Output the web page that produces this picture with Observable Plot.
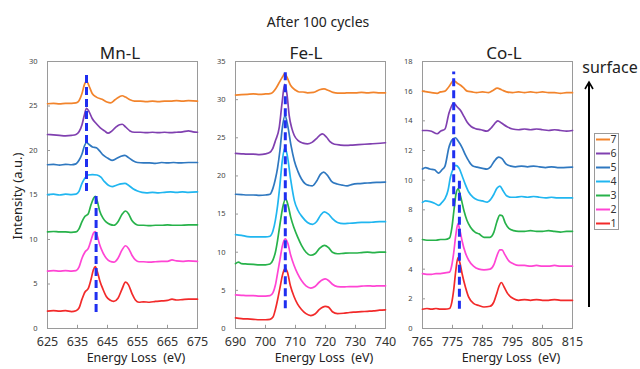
<!DOCTYPE html>
<html>
<head>
<meta charset="utf-8">
<script src="https://cdn.jsdelivr.net/npm/d3@7"></script>
<script src="https://cdn.jsdelivr.net/npm/@observablehq/plot@0.6"></script>
<style>
  html, body { margin: 0; padding: 0; background: #fff; }
  #root { position: relative; width: 640px; height: 369px; background: #fff; font-family: "Noto Sans", "Open Sans", sans-serif; color: #222; overflow: hidden; }
  .t { position: absolute; white-space: pre; transform: translate(-50%, -50%); line-height: 1; }
  #root svg { position: absolute; top: 0; }
</style>
</head>
<body>
<div id="root"></div>
<script>
// ---------- data ----------
const seriesNames = ["1", "2", "3", "4", "5", "6", "7"];
const seriesColors = ["#f22a2a", "#ff45d4", "#27b24a", "#20b6f0", "#2f78c0", "#8040b0", "#f2842c"];
const dashColor = "#1f2ff0";

const mnXTicks = [625, 635, 645, 655, 665, 675];
const mnYTicks = [0, 5, 10, 15, 20, 25, 30];
const feXTicks = [690, 700, 710, 720, 730, 740];
const feYTicks = [0, 5, 10, 15, 20, 25, 30, 35];
const coXTicks = [765, 775, 785, 795, 805, 815];
const coYTicks = [0, 2, 4, 6, 8, 10, 12, 14, 16, 18];

// Mn-L spectra, series 1..7 : [energy loss (eV), intensity]
const mnSpectra = [
  [[625,1.95],[627,2.0],[629,1.95],[631,2.0],[633,1.9],[634.5,2.0],[635.5,2.3],[636.5,3.3],[637.5,4.1],[638.6,4.5],[639.5,5.5],[640.3,6.6],[640.9,6.95],[641.6,6.4],[642.4,5.4],[643.5,4.4],[644.6,3.6],[645.8,3.2],[647.1,3.05],[648.5,3.4],[649.8,4.4],[651.0,5.2],[652.0,4.9],[653.2,3.9],[654.3,3.2],[655.5,2.95],[657,3.0],[659,2.95],[661,3.05],[663,3.1],[665,3.15],[666.5,3.3],[668,3.2],[670,3.25],[672,3.3],[675,3.3]],
  [[625,6.45],[627,6.5],[629,6.45],[631,6.5],[633,6.45],[634.5,6.5],[635.5,6.9],[636.5,7.9],[637.5,8.6],[638.6,9.0],[639.5,9.9],[640.3,10.7],[640.9,10.9],[641.6,10.4],[642.4,9.4],[643.5,8.5],[644.6,7.9],[645.8,7.55],[647.1,7.45],[648.5,7.9],[649.8,8.8],[651.0,9.3],[652.0,9.0],[653.2,8.2],[654.3,7.7],[655.5,7.5],[657,7.5],[659,7.45],[661,7.5],[663,7.55],[665,7.55],[666.5,7.7],[668,7.6],[670,7.55],[672,7.6],[675,7.55]],
  [[625,10.85],[627,10.9],[629,10.85],[631,10.85],[633,10.8],[634.5,10.85],[635.5,11.2],[636.5,12.0],[637.5,12.6],[638.6,12.9],[639.5,13.9],[640.3,14.6],[640.9,14.85],[641.6,14.3],[642.4,13.2],[643.5,12.4],[644.6,11.95],[645.8,11.7],[647.1,11.6],[648.5,12.0],[649.8,12.8],[651.0,13.2],[652.0,12.9],[653.2,12.1],[654.3,11.75],[655.5,11.6],[657,11.6],[659,11.55],[661,11.6],[663,11.6],[665,11.65],[667,11.6],[669,11.6],[672,11.65],[675,11.65]],
  [[625,15.05],[627,15.1],[629,15.0],[631,15.1],[633,15.05],[634.5,15.1],[635.5,15.4],[636.5,16.3],[637.5,16.9],[638.5,17.25],[640,17.3],[641.5,17.25],[642.8,17.0],[644,16.5],[645.3,16.1],[646.6,15.95],[648,16.1],[649.5,16.25],[650.8,16.3],[652,16.1],[653.5,15.7],[655,15.45],[656.5,15.3],[658,15.25],[660,15.3],[662,15.25],[664,15.3],[666,15.35],[668,15.3],[670,15.35],[672,15.3],[675,15.35]],
  [[625,18.4],[627,18.45],[629,18.35],[631,18.45],[633,18.4],[634.5,18.5],[635.5,18.9],[636.5,19.6],[637.3,20.5],[638,20.9],[638.8,20.7],[640,20.4],[641.3,20.3],[642.5,19.9],[643.5,19.5],[645,19.15],[646.5,18.9],[648,19.1],[649.5,19.35],[650.8,19.45],[652,19.2],[653.5,18.85],[655,18.65],[657,18.6],[659,18.6],[661,18.55],[663,18.65],[665,18.6],[667,18.65],[669,18.6],[672,18.65],[675,18.65]],
  [[625,21.8],[627,21.75],[629,21.7],[631,21.65],[633,21.7],[634.5,21.8],[635.5,22.1],[636.5,22.9],[637.3,24.0],[638,24.75],[638.8,24.4],[639.9,23.6],[641.3,23.0],[642.6,22.55],[644,22.2],[645.2,21.95],[646.3,22.15],[647.7,22.6],[649,22.9],[649.9,22.95],[651,22.65],[652.5,22.2],[654,22.05],[656,22.05],[658,22.0],[660,22.05],[662,22.0],[664,22.05],[666,22.0],[668,22.05],[670,22.1],[672,22.2],[673.5,22.1],[675,22.05]],
  [[625,25.25],[627,25.3],[629,25.25],[631,25.3],[633,25.3],[634.5,25.35],[635.5,25.6],[636.5,26.4],[637.3,27.4],[638,27.8],[638.8,27.3],[639.9,26.4],[641.3,26.0],[643.2,25.75],[644.8,25.45],[646,25.35],[647.5,25.7],[649,26.05],[649.9,26.15],[651,26.0],[652.5,25.7],[654,25.55],[656,25.55],[658,25.5],[660,25.55],[662,25.5],[664,25.55],[666,25.55],[668,25.6],[670,25.55],[672,25.6],[675,25.55]]
];

// Fe-L spectra, series 1..7
const feSpectra = [
  [[690,1.4],[692,1.3],[694,1.25],[696,1.2],[698,1.15],[700,1.15],[701.5,1.2],[702.5,1.5],[703.3,2.5],[704,3.7],[704.8,5.3],[705.6,6.9],[706.5,7.9],[707.3,7.4],[708.3,5.6],[709.5,4.2],[710.7,3.2],[712,2.5],[713.5,1.95],[715.1,1.7],[716.5,1.9],[718,2.5],[719.9,2.9],[721,2.8],[722.3,2.2],[724,1.95],[726,2.0],[728,2.1],[730,2.15],[732,2.2],[734,2.25],[736,2.3],[738,2.4],[740,2.45]],
  [[690,4.4],[692,4.35],[694,4.3],[696,4.3],[698,4.25],[700,4.25],[701.5,4.3],[702.5,4.7],[703.3,5.7],[704,7.2],[704.8,9.0],[705.6,10.8],[706.6,11.75],[707.4,11.2],[708.4,9.6],[709.5,8.3],[710.7,7.2],[712,6.3],[713.5,5.6],[715.1,5.3],[716.5,5.5],[718,6.1],[719.9,6.5],[721,6.3],[722.3,5.8],[724,5.5],[726,5.45],[728,5.5],[730,5.5],[732,5.55],[734,5.6],[736,5.55],[738,5.6],[740,5.6]],
  [[690,8.5],[691,8.7],[692,8.5],[694,8.45],[696,8.4],[698,8.35],[700,8.35],[701.5,8.45],[702.5,9.0],[703.3,10.0],[704,11.5],[704.8,13.6],[705.7,15.8],[706.7,17.0],[707.5,16.2],[708.4,14.6],[709.5,13.2],[710.7,12.0],[712,10.9],[713.5,10.0],[715.1,9.6],[716.5,9.8],[718,10.5],[719.6,10.9],[721,10.6],[722.3,10.0],[724,9.8],[726,9.85],[728,9.9],[730,9.9],[732,9.95],[734,10.0],[736,9.95],[738,10.0],[740,10.0]],
  [[690,12.3],[692,12.2],[694,12.05],[696,12.0],[698,12.0],[700,12.0],[701.5,12.1],[702.5,12.8],[703.3,14.2],[704,16.0],[704.8,18.8],[705.6,22.0],[706.5,23.7],[707.3,22.6],[708.4,19.5],[709.6,16.8],[710.8,15.5],[712.3,14.6],[714,13.9],[715.7,13.65],[717,14.0],[718.3,14.8],[719.6,15.3],[721,15.0],[722.3,14.4],[724,13.9],[726,13.75],[728,13.8],[730,13.85],[732,13.9],[734,13.9],[736,13.95],[738,14.0],[740,14.0]],
  [[690,17.6],[692,17.55],[694,17.5],[696,17.5],[698,17.45],[700,17.5],[701.5,17.6],[702.5,18.4],[703.3,19.6],[704,21.0],[704.8,23.3],[705.6,26.3],[706.5,27.9],[707.4,26.6],[708.5,24.0],[709.6,22.0],[710.8,20.6],[712,19.6],[713.3,18.95],[714.6,18.75],[715.6,18.7],[717,19.3],[718.3,20.2],[719.4,20.5],[720.6,20.1],[722,19.3],[723.9,18.95],[725.5,18.8],[727.2,18.7],[729,18.9],[731,19.0],[733,19.05],[735,19.1],[737,19.15],[740,19.2]],
  [[690,22.95],[692,22.9],[694,22.85],[696,22.85],[698,22.8],[700,22.9],[701.5,23.1],[702.3,23.5],[703.3,24.6],[704.6,26.4],[705.5,29.5],[706.4,32.0],[707.2,30.6],[707.9,27.9],[708.8,26.2],[709.6,25.3],[711,24.6],[712.5,24.3],[714,24.2],[715.5,24.4],[717,24.9],[718.3,25.4],[719,25.5],[720.3,25.1],[721.5,24.5],[723,24.15],[725,24.05],[727,24.0],[729,24.05],[731,24.1],[733,24.15],[735,24.2],[737,24.25],[740,24.35]],
  [[690,30.6],[692,30.65],[694,30.7],[696,30.75],[698,30.7],[700,30.75],[701.5,30.8],[702.5,31.0],[703.5,31.5],[704.8,32.4],[705.7,33.0],[706.4,33.4],[707.2,32.9],[708.4,31.85],[709.8,31.3],[711.2,31.0],[712.5,31.0],[714,30.9],[716,30.95],[718,31.3],[719.5,31.4],[721,31.2],[722.5,30.95],[724,30.85],[726,30.85],[728,30.9],[730,30.9],[732,30.95],[734,30.9],[736,30.95],[738,30.9],[740,30.9]]
];

// Co-L spectra, series 1..7
const coSpectra = [
  [[765,1.3],[766.5,1.35],[768,1.3],[769.5,1.35],[771,1.3],[772.5,1.3],[774,1.35],[774.8,1.8],[775.4,2.6],[776.1,3.9],[776.8,4.77],[777.5,4.4],[778.2,3.69],[779.3,2.8],[780.4,2.11],[782,1.7],[783.8,1.55],[785.5,1.45],[787.5,1.5],[788.8,1.8],[789.8,2.4],[790.6,2.9],[791.3,3.1],[792.2,2.8],[793.4,2.35],[795.4,2.0],[797,1.9],[799,1.95],[801,1.9],[803,1.95],[805,1.9],[807,1.9],[809,1.95],[811,1.9],[813,1.9],[815,1.9]],
  [[765,3.7],[766.5,3.65],[768,3.65],[769.5,3.7],[771,3.7],[772.5,3.75],[774,3.8],[774.8,4.3],[775.4,5.1],[776.1,6.3],[776.8,7.05],[777.5,6.6],[778.2,5.9],[779.3,5.1],[780.4,4.6],[782,4.2],[783.8,4.0],[785.5,3.95],[787.5,4.0],[788.8,4.3],[789.8,4.9],[790.8,5.3],[791.5,5.3],[792.4,5.0],[793.6,4.6],[795.4,4.35],[797,4.25],[799,4.25],[801,4.2],[803,4.25],[805,4.2],[807,4.2],[809,4.25],[811,4.2],[813,4.2],[815,4.2]],
  [[765,6.0],[766.5,5.95],[768,5.95],[769.5,5.95],[771,6.0],[772.5,6.0],[774,6.1],[774.8,6.8],[775.5,8.0],[776.2,9.1],[776.9,9.42],[777.7,8.9],[778.8,7.96],[779.8,7.3],[781,6.83],[782.5,6.5],[783.8,6.38],[785.5,6.15],[787.5,6.15],[788.8,6.5],[789.8,7.2],[790.8,7.65],[791.6,7.6],[792.6,7.1],[793.8,6.75],[795.4,6.6],[797,6.55],[799,6.55],[801,6.6],[803,6.55],[805,6.55],[807,6.6],[809,6.55],[811,6.5],[813,6.55],[815,6.55]],
  [[765,8.5],[766,8.6],[767.5,8.55],[769,8.45],[770.4,8.3],[771.5,8.5],[772.5,8.75],[773.5,9.3],[774.3,10.2],[775.3,10.8],[776.1,11.0],[777.2,10.8],[778.2,10.3],[779.3,9.7],[780.4,9.2],[781.8,8.85],[783.2,8.68],[785,8.6],[786.6,8.52],[787.7,8.7],[788.8,9.05],[789.8,9.45],[790.8,9.6],[791.8,9.3],[793,8.95],[794.5,8.85],[796,8.85],[798,8.9],[800,8.85],[802,8.9],[804,8.85],[806,8.8],[808,8.85],[810,8.8],[812,8.8],[815,8.8]],
  [[765,10.75],[766,10.85],[767.5,10.75],[769,10.7],[770.4,10.47],[771.5,10.7],[772.5,10.95],[773.8,12.2],[774.8,12.7],[776,12.86],[777,12.6],[778.2,12.2],[779.3,11.7],[780.4,11.3],[781.8,10.95],[783.2,10.88],[785,10.8],[786.5,10.75],[787.7,10.9],[789,11.3],[790.4,11.55],[791.5,11.45],[792.8,11.1],[794.5,10.95],[796,10.9],[798,10.95],[800,10.9],[802,10.95],[804,10.9],[806,10.85],[808,10.9],[810,10.85],[812,10.85],[815,10.88]],
  [[765,13.35],[766.5,13.35],[768,13.3],[769.9,13.13],[771,13.3],[772.5,13.45],[773.8,14.5],[775.4,15.2],[776.5,14.95],[777.7,14.7],[778.8,14.3],[779.9,13.9],[781.3,13.6],[782.7,13.47],[784.5,13.4],[786.5,13.3],[787.8,13.5],[789,13.8],[790.1,14.0],[791.3,13.85],[793.2,13.6],[795,13.45],[797,13.4],[799,13.45],[801,13.4],[803,13.45],[805,13.4],[807,13.35],[809,13.4],[811,13.35],[813,13.3],[815,13.35]],
  [[765,16.0],[766.5,15.95],[768,15.9],[769.9,15.85],[771,15.95],[772.5,16.0],[773.8,16.3],[775.4,16.72],[776.5,16.55],[777.7,16.4],[778.8,16.2],[779.9,16.0],[781.5,15.95],[783,15.9],[785,15.95],[787,15.9],[788.5,16.05],[789.9,16.2],[791.3,16.1],[793,15.95],[795,15.9],[797,15.95],[799,15.9],[801,15.95],[803,15.9],[805,15.95],[807,15.9],[809,15.9],[811,15.85],[813,15.9],[815,15.9]]
];

// blue dashed peak markers: energy, from, to
const mnDashes = [{x: 638, y1: 15.4, y2: 28.7}, {x: 641.2, y1: 1.8, y2: 15.0}];
const feDashes = [{x: 706.6, y1: 2.6, y2: 33.8}];
const coDashes = [{x: 775.4, y1: 8.2, y2: 17.3}, {x: 777.3, y1: 1.3, y2: 10.0}];

const panelTitles = ["Mn-L", "Fe-L", "Co-L"];
const mainTitle = "After 100 cycles";
const xLabel = "Energy Loss  (eV)";
const yLabel = "Intensity (a.u.)";
const arrowLabel = "surface";

// ---------- drawing ----------
const root = document.getElementById("root");

function addText(txt, x, y, size, extra = "") {
  const d = document.createElement("div");
  d.className = "t";
  d.textContent = txt;
  d.style.cssText = `left:${x}px;top:${y}px;font-size:${size}px;${extra}`;
  root.appendChild(d);
}

function panel({left, width, marginLeft, marginRight, xDomain, yDomain, xTicks, yTicks, spectra, dashes}) {
  const xt = (xDomain[1] - xDomain[0]) * 0.02;
  const yt = (yDomain[1] - yDomain[0]) * 0.012;
  const svg = Plot.plot({
    width, height: 369,
    marginLeft, marginRight, marginTop: 61, marginBottom: 41,
    style: {background: "transparent", overflow: "visible", fontFamily: "'Noto Sans', sans-serif"},
    x: {domain: xDomain},
    y: {domain: yDomain},
    marks: [
      Plot.frame({stroke: "#9a9a9a", strokeWidth: 1}),
      Plot.ruleX(xTicks, {x: d => d, y1: yDomain[0], y2: yDomain[0] + yt, stroke: "#9a9a9a"}),
      Plot.ruleY(yTicks, {y: d => d, x1: xDomain[0], x2: xDomain[0] + xt, stroke: "#9a9a9a"}),
      Plot.axisY({ticks: yTicks, tickSize: 0, tickPadding: 10, fontSize: 7.5, label: null, color: "#444"}),
      Plot.axisX({ticks: xTicks, tickSize: 0, tickPadding: 9, fontSize: 12.5, label: null, color: "#333"}),
      ...spectra.map((pts, i) => Plot.line(pts, {x: d => d[0], y: d => d[1], stroke: seriesColors[i], strokeWidth: 1.7, curve: "monotone-x"})),
      Plot.ruleX(dashes, {x: "x", y1: "y1", y2: "y2", stroke: dashColor, strokeWidth: 3, strokeDasharray: "8,4"})
    ]
  });
  svg.style.left = left + "px";
  root.appendChild(svg);
}

panel({left: 0, width: 205, marginLeft: 47, marginRight: 8, xDomain: [625, 675], yDomain: [0, 30], xTicks: mnXTicks, yTicks: mnYTicks, spectra: mnSpectra, dashes: mnDashes});
panel({left: 205, width: 190, marginLeft: 30, marginRight: 10, xDomain: [690, 740], yDomain: [0, 35], xTicks: feXTicks, yTicks: feYTicks, spectra: feSpectra, dashes: feDashes});
panel({left: 395, width: 185, marginLeft: 27, marginRight: 8, xDomain: [765, 815], yDomain: [0, 18], xTicks: coXTicks, yTicks: coYTicks, spectra: coSpectra, dashes: coDashes});

// titles
addText(mainTitle, 318, 22, 14);
addText(panelTitles[0], 120, 52, 17);
addText(panelTitles[1], 306, 52, 17);
addText(panelTitles[2], 504, 52, 17);
addText(xLabel, 136, 358, 12.5);
addText(xLabel, 324, 358, 12.5);
addText(xLabel, 511, 358, 12.5);
addText(yLabel, 17, 196, 13, "transform:translate(-50%,-50%) rotate(-90deg);");
addText(arrowLabel, 610, 67, 16);

// arrow + legend
const ns = d3.select(root).append("svg")
  .attr("width", 60).attr("height", 260)
  .style("left", "580px").style("top", "75px");
ns.append("line").attr("x1", 9).attr("x2", 9).attr("y1", 8).attr("y2", 232)
  .attr("stroke", "#000").attr("stroke-width", 2);
ns.append("path").attr("d", "M5,14 L9,7 L13,14").attr("fill", "none")
  .attr("stroke", "#000").attr("stroke-width", 1.6);
const lg = ns.append("g").attr("transform", "translate(14,58)");
lg.append("rect").attr("x", 0.5).attr("y", 0.5).attr("width", 24).attr("height", 96)
  .attr("fill", "#fff").attr("stroke", "#9a9a9a");
const order = seriesNames.map((n, i) => i).reverse();
order.forEach((si, k) => {
  const yy = 6.5 + k * 14;
  lg.append("line").attr("x1", 2).attr("x2", 16).attr("y1", yy).attr("y2", yy)
    .attr("stroke", seriesColors[si]).attr("stroke-width", 2);
  lg.append("text").attr("x", 16.5).attr("y", yy).attr("dy", "0.35em")
    .attr("font-size", 10.5).attr("font-family", "'Noto Sans', sans-serif").attr("fill", "#333")
    .text(seriesNames[si]);
});
</script>
</body>
</html>
